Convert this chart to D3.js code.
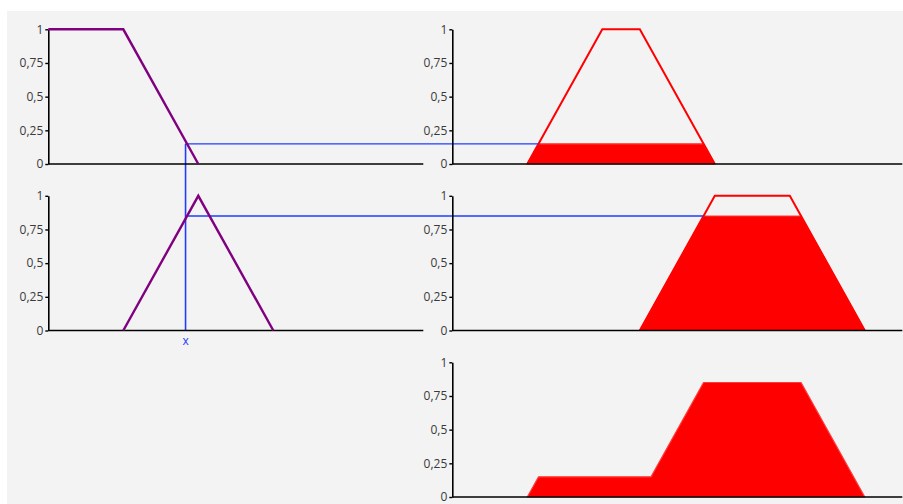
<!DOCTYPE html>
<html>
<head>
<meta charset="utf-8">
<script src="https://cdn.jsdelivr.net/npm/d3@7"></script>
<style>
  html, body { margin: 0; padding: 0; background: #fff; }
  svg { display: block; font-family: "Open Sans", "DejaVu Sans", sans-serif; }
</style>
</head>
<body>
<div id="chart"></div>
<script>
// ---- Data (x in universe units, y = membership) ----
const yTicks = [0, 0.25, 0.5, 0.75, 1];
const yTickLabels = ["0", "0,25", "0,5", "0,75", "1"];

// input fuzzy sets (left column)
const inputSetA = [[0, 1], [1, 1], [2, 0]];
const inputSetB = [[1, 0], [2, 1], [3, 0]];

// output fuzzy sets (right column)
const outputSetA = [[1, 0], [2, 1], [2.5, 1], [3.5, 0]];
const outputSetB = [[2.5, 0], [3.5, 1], [4.5, 1], [5.5, 0]];

// crisp input and its degrees of membership
const crispX = 1.83;
const degreeA = 0.15;
const degreeB = 0.85;

// clipped output sets
const clippedA = [[1, 0], [1.15, 0.15], [3.35, 0.15], [3.5, 0]];
const clippedB = [[2.5, 0], [3.35, 0.85], [4.65, 0.85], [5.5, 0]];

// aggregated result
const aggregated = [[1, 0], [1.15, 0.15], [2.65, 0.15], [3.35, 0.85], [4.65, 0.85], [5.5, 0]];

// ---- Layout ----
const W = 903, H = 504;
const svg = d3.select("#chart").append("svg")
  .attr("width", W).attr("height", H);

svg.append("rect")
  .attr("x", 7).attr("y", 11)
  .attr("width", W - 7).attr("height", H - 11)
  .attr("fill", "#f3f3f3");

const xLeft = d3.scaleLinear().domain([0, 5]).range([48.3, 423.3]);
const xRight = d3.scaleLinear().domain([0, 6]).range([452.3, 902.3]);

const rowTop = [29.3, 195.8, 362.3];
const rowH = 134.7;
const yRow = rowTop.map(t => d3.scaleLinear().domain([0, 1]).range([t + rowH, t]));

const line = (xs, ys) => d3.line().x(d => xs(d[0])).y(d => ys(d[1]));

function drawAxes(xs, ys) {
  const g = svg.append("g");
  const yAxis = d3.axisLeft(ys)
    .tickValues(yTicks)
    .tickFormat((d, i) => yTickLabels[i])
    .tickSize(3)
    .tickSizeOuter(0)
    .tickPadding(2);
  const ga = g.append("g")
    .attr("transform", `translate(${xs.range()[0]},0)`)
    .call(yAxis);
  ga.select(".domain").attr("stroke", "#000").attr("stroke-width", 1.6);
  ga.selectAll(".tick line").attr("stroke", "#000").attr("stroke-width", 1.4);
  ga.selectAll(".tick text")
    .attr("fill", "#3a3a3a")
    .style("font-size", "12px")
    .style("font-family", "'Open Sans', sans-serif");
  g.append("line")
    .attr("x1", xs.range()[0]).attr("x2", xs.range()[1])
    .attr("y1", ys(0)).attr("y2", ys(0))
    .attr("stroke", "#000").attr("stroke-width", 1.6);
}

// ---- Filled clipped / aggregated areas ----
[[clippedA, yRow[0]], [clippedB, yRow[1]], [aggregated, yRow[2]]].forEach(([pts, ys]) => {
  svg.append("path")
    .attr("d", line(xRight, ys)(pts) + "Z")
    .attr("fill", "#ff0000")
    .attr("stroke", "#ff3a3a")
    .attr("stroke-width", 1.2)
    .attr("stroke-linejoin", "round");
});

// ---- Output set outlines ----
[[outputSetA, yRow[0]], [outputSetB, yRow[1]]].forEach(([pts, ys]) => {
  svg.append("path")
    .attr("d", line(xRight, ys)(pts))
    .attr("fill", "none")
    .attr("stroke", "#ff0000")
    .attr("stroke-width", 2);
});

// ---- Blue guide lines ----
const blue = "#1f3cff";
svg.append("line")
  .attr("x1", xLeft(crispX)).attr("x2", xLeft(crispX))
  .attr("y1", yRow[0](degreeA)).attr("y2", yRow[1](0))
  .attr("stroke", blue).attr("stroke-width", 1.6);
svg.append("line")
  .attr("x1", xLeft(crispX)).attr("x2", xRight(clippedA[1][0]))
  .attr("y1", yRow[0](degreeA)).attr("y2", yRow[0](degreeA))
  .attr("stroke", blue).attr("stroke-width", 1.3);
svg.append("line")
  .attr("x1", xLeft(crispX)).attr("x2", xRight(clippedB[1][0]))
  .attr("y1", yRow[1](degreeB)).attr("y2", yRow[1](degreeB))
  .attr("stroke", blue).attr("stroke-width", 1.3);

// ---- Axes ----
drawAxes(xLeft, yRow[0]);
drawAxes(xLeft, yRow[1]);
drawAxes(xRight, yRow[0]);
drawAxes(xRight, yRow[1]);
drawAxes(xRight, yRow[2]);

// ---- Input sets (purple) ----
[[inputSetA, yRow[0]], [inputSetB, yRow[1]]].forEach(([pts, ys]) => {
  svg.append("path")
    .attr("d", line(xLeft, ys)(pts))
    .attr("fill", "none")
    .attr("stroke", "#800080")
    .attr("stroke-width", 2.4);
});

// crisp input label
svg.append("text")
  .attr("x", xLeft(crispX))
  .attr("y", yRow[1](0) + 14)
  .attr("text-anchor", "middle")
  .attr("fill", blue)
  .style("font-size", "12px")
  .text("x");
</script>
</body>
</html>
